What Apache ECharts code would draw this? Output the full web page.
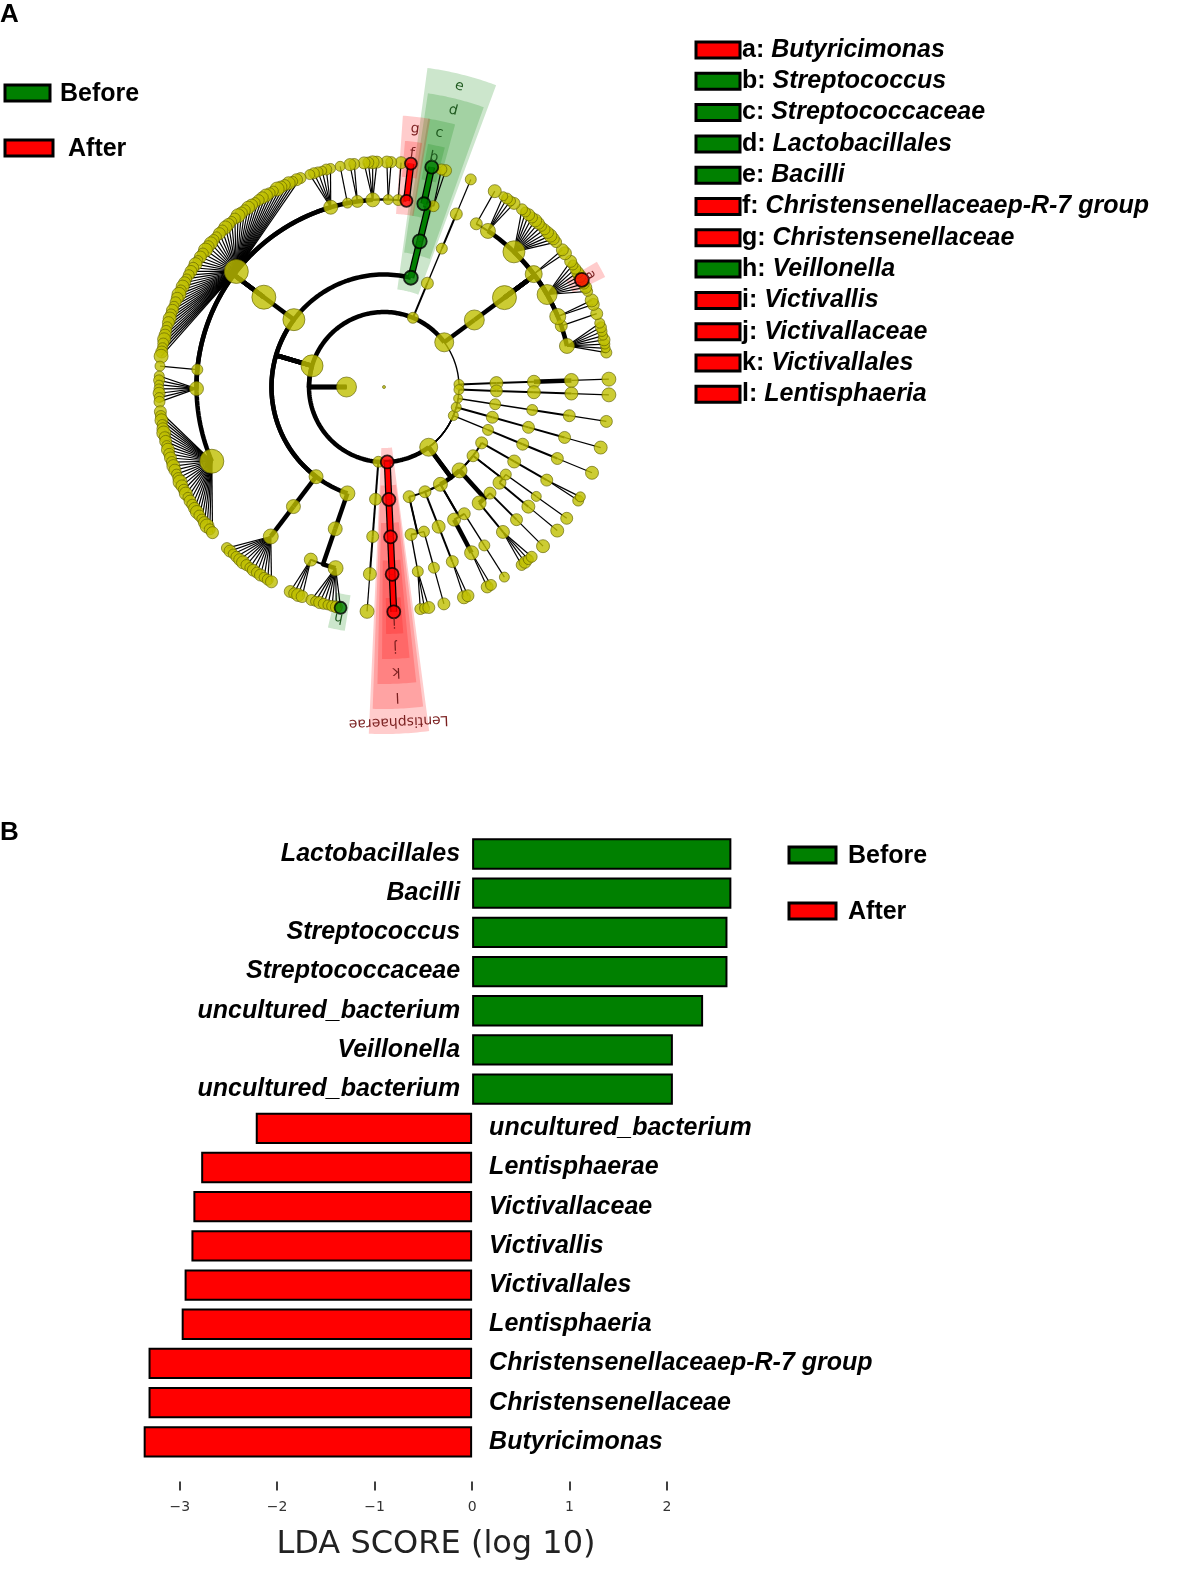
<!DOCTYPE html>
<html>
<head>
<meta charset="utf-8">
<script src="https://cdn.jsdelivr.net/npm/echarts@6.0.0/dist/echarts.min.js"></script>
<style>
  html, body { margin: 0; padding: 0; background: #fff; }
  #chart { width: 1182px; height: 1596px; }
</style>
</head>
<body>
<div id="chart"></div>
<script>
// ---------- panel B data ----------
const ldaLabels = ['Lactobacillales', 'Bacilli', 'Streptococcus', 'Streptococcaceae', 'uncultured_bacterium',
  'Veillonella', 'uncultured_bacterium', 'uncultured_bacterium', 'Lentisphaerae', 'Victivallaceae',
  'Victivallis', 'Victivallales', 'Lentisphaeria', 'Christensenellaceaep-R-7 group',
  'Christensenellaceae', 'Butyricimonas'];
const ldaScores = [2.66, 2.66, 2.62, 2.62, 2.37, 2.06, 2.06, -2.22, -2.78, -2.86, -2.88, -2.95, -2.98, -3.32, -3.32, -3.37];
const ldaTicks = [-3, -2, -1, 0, 1, 2];

// ---------- panel A data ----------
// biomarker letters shown in the cladogram legend
const markKeys = ['a', 'b', 'c', 'd', 'e', 'f', 'g', 'h', 'i', 'j', 'k', 'l'];
const markNames = ['Butyricimonas', 'Streptococcus', 'Streptococcaceae', 'Lactobacillales', 'Bacilli',
  'Christensenellaceaep-R-7 group', 'Christensenellaceae', 'Veillonella', 'Victivallis',
  'Victivallaceae', 'Victivallales', 'Lentisphaeria'];
const markGroups = ['After', 'Before', 'Before', 'Before', 'Before', 'After', 'After', 'Before',
  'After', 'After', 'After', 'After'];
const fullMarks = ['Lentisphaerae'];
const fullMarkGroups = ['After'];

// tree nodes: [size, children, tag]; a bare number is a leaf of that size
const lachnoLeaves = [11, 12, 10, 13, 11, 12, 14, 10, 11, 13, 12, 11, 10, 12, 13, 11, 12, 14, 11, 10,
  12, 13, 11, 12, 10, 11, 13, 12, 14, 11, 12, 10, 13, 11, 12, 11, 10, 12, 13, 11, 14, 12, 11, 10, 12,
  11, 13, 12, 10, 11, 12, 13, 11, 10, 12, 14];
const rumiLeaves = [12, 11, 13, 10, 12, 14, 11, 12, 10, 13, 11, 12, 11, 13, 12, 10, 11, 14, 12, 11,
  13, 10, 12, 11, 12, 13, 11, 10, 12, 14, 11, 12];
const erysiLeaves = [11, 12, 10, 11, 12, 13, 11, 10, 12, 11, 12, 10, 11, 12];

const phyStart = [10, [[13, [[13, [[14, [14]]]]]]]];
const bacteroidetes = [19, [[20, [[24, [
  [15, [11, 9, 10, 12, 9, 10, 11, 10]],
  [12, [12]],
  [16, [12, 13]],
  [20, [10, 12, 11, [14, [], 'a'], 13, 12, 11, 10, 12]],
  [17, [13, 12]],
  [22, [11, 12, 13, 12, 11, 10, 12, 13, 11, 12, 10, 11]],
  [15, [12, 10, 11, 9]],
  [12, [13]]
]]]]]];
const actinobacteria = [11, [[12, [[11, [[12, [11]]]]]]]];
const bacilli = [14, [[14, [[11, [12, 11]], [13, [[13, [], 'b']], 'c']], 'd']], 'e'];
const clostridia = [22, [[24, [
  [12, [[12, [], 'f']], 'g'],
  [11, [12]],
  [10, [11, 12]],
  [14, [12, 13, 11, 12]],
  [12, [11, 12]],
  [10, [10]],
  [14, [10, 11, 9, 10, 11, 10]],
  [24, lachnoLeaves],
  [11, [10]],
  [14, [10, 11, 9, 10, 12, 10, 11]],
  [24, rumiLeaves]
]]]];
const erysipelotrichia = [14, [[14, [[15, erysiLeaves]]]]];
const negativicutes = [15, [[14, [
  [13, [12, 11, 13, 12]],
  [15, [11, 10, 12, 11, 10, 11, 12, [12, [], 'h']]]
]]]];
const firmicutes = [22, [bacilli, clostridia, erysipelotrichia, negativicutes]];
const tenericutes = [11, [[12, [[12, [[13, [14]]]]]]]];
const lentisphaerae = [13, [[13, [[13, [[13, [[13, [], 'i']], 'j']], 'k']], 'l']], 'Lentisphaerae'];
const proteobacteria = [18, [
  [12, [[12, [[11, [11, 10, 12]]]], [11, [[11, [12]]]]]],
  [12, [[13, [[12, [13, 12]]]]]],
  [14, [[13, [[14, [12, 11]]]], [12, [[11, [10]]]]]],
  [15, [[14, [[13, [11, 12, 10, 11]]]], [12, [[12, [13]]]]]],
  [12, [[13, [[13, [13]]]], [11, [[10, [12]]]]]],
  [12, [[13, [[12, [11, 10]]]]]]
]];
const minorA = [10, [[11, [[12, [[12, [13]]]]]]]];
const minorB = [10, [[12, [[12, [[12, [13]]]]]]]];
const minorC = [9, [[11, [[11, [[12, [12]]]]]]]];
const minorD = [10, [[12, [[13, [[13, [14]]]]]]]];
const bacteria = [20, [phyStart, bacteroidetes, actinobacteria, firmicutes, tenericutes,
  lentisphaerae, proteobacteria, minorA, minorB, minorC, minorD]];

// ---------- cladogram layout ----------
const LEVEL_R = 37.5, MAX_LEVEL = 6, K_GAP = 1.3, A0 = 2, A1 = 358;
const WEDGE_MARGIN = { 2: 5, 3: 4.5, 4: 3.75, 5: 2.9, 6: 2 };

function norm(n) {
  if (typeof n === 'number') return { size: n, kids: [], tag: null };
  return { size: n[0], kids: (n[1] || []).map(norm), tag: n[2] || null };
}
function groupOf(tag) {
  if (!tag) return null;
  let i = markKeys.indexOf(tag);
  if (i >= 0) return markGroups[i];
  i = fullMarks.indexOf(tag);
  return i >= 0 ? fullMarkGroups[i] : null;
}

const root = norm([3, [bacteria]]);
const leaves = [], allNodes = [];
(function walk(n, lvl, path) {
  n.level = lvl; n.path = path; n.group = groupOf(n.tag);
  allNodes.push(n);
  if (!n.kids.length) leaves.push(n);
  n.kids.forEach(k => walk(k, lvl + 1, path.concat([n])));
})(root, 0, []);

// consecutive leaves are spaced more when they split higher up the tree
let acc = 0;
const raw = [0];
for (let i = 1; i < leaves.length; i++) {
  const a = leaves[i - 1].path, b = leaves[i].path;
  let j = 0;
  while (j < a.length && j < b.length && a[j] === b[j]) j++;
  const d = MAX_LEVEL - (j - 1);
  acc += 1 + K_GAP * (d - 1);
  raw.push(acc);
}
leaves.forEach((l, i) => { l.theta = A0 + raw[i] / acc * (A1 - A0); });
(function place(n) {
  if (!n.kids.length) { n.lo = n.hi = n.theta; return; }
  n.kids.forEach(place);
  n.theta = (n.kids[0].theta + n.kids[n.kids.length - 1].theta) / 2;
  n.lo = n.kids[0].lo;
  n.hi = n.kids[n.kids.length - 1].hi;
})(root);

const GROUP_CODE = { Before: 1, After: 2 };
const edgeData = [];
allNodes.forEach(p => {
  if (p.level === 0) return;
  p.kids.forEach(c => {
    const w = !c.kids.length ? 1.2 : c.size >= 14 ? 4.5 : c.size >= 12 ? 2 : 1.4;
    const hl = (p.group && p.group === c.group) ? GROUP_CODE[c.group] : 0;
    edgeData.push([p.level * LEVEL_R, p.theta, c.level * LEVEL_R, c.theta, w, hl, c.kids.length ? 0 : 1]);
  });
});

const nodeData = allNodes.slice().sort((a, b) => (a.group ? 1 : 0) - (b.group ? 1 : 0)).map(n => ({
  value: [n.level * LEVEL_R, n.theta],
  symbolSize: n.size,
  itemStyle: n.group
    ? { color: n.group === 'Before' ? '#008000' : '#ff0000', borderColor: '#000', borderWidth: 1.8 }
    : { color: '#bfbf00', borderColor: '#5e5e00', borderWidth: 0.8 }
}));

const marked = allNodes.filter(n => n.group).sort((a, b) => a.level - b.level);
const wedgeData = marked.map(n => {
  const m = WEDGE_MARGIN[n.level];
  const outer = 235 + (MAX_LEVEL - n.level) * 25 + 12;
  return [n.level * LEVEL_R - 14, outer, n.lo - m, n.hi + m, GROUP_CODE[n.group]];
});
const labelData = marked.map(n => [235 + (MAX_LEVEL - n.level) * 25, (n.lo + n.hi) / 2, GROUP_CODE[n.group]]);
const labelTexts = marked.map(n => n.tag);

// ---------- chart ----------
const chart = echarts.init(document.getElementById('chart'), null, { renderer: 'canvas' });
const BOLD = '"Liberation Sans", Arial, sans-serif';
const MPL = '"DejaVu Sans", sans-serif';

const legendRows = markKeys.map((k, i) => {
  const cy = 50 + i * 31.3;
  const fill = markGroups[i] === 'Before' ? '#008000' : '#ff0000';
  return [
    { type: 'rect', shape: { x: 696, y: cy - 8, width: 44, height: 16 },
      style: { fill: fill, stroke: '#000', lineWidth: 3 } },
    { type: 'text', x: 742, y: cy,
      style: { text: '{k|' + k + ': }{n|' + markNames[i] + '}', verticalAlign: 'middle',
        rich: {
          k: { fontFamily: BOLD, fontWeight: 'bold', fontSize: 25, fill: '#000' },
          n: { fontFamily: BOLD, fontWeight: 'bold', fontStyle: 'italic', fontSize: 25, fill: '#000' }
        } } }
  ];
}).flat();

function legendBox(x, y, w, fill, label, tx) {
  return [
    { type: 'rect', shape: { x: x, y: y - 8, width: w, height: 16 },
      style: { fill: fill, stroke: '#000', lineWidth: 3 } },
    { type: 'text', x: tx, y: y + 1,
      style: { text: label, fontFamily: BOLD, fontWeight: 'bold', fontSize: 25, fill: '#000',
        verticalAlign: 'middle' } }
  ];
}

const option = {
  animation: false,
  backgroundColor: '#fff',
  polar: { center: [384, 387], radius: 350 },
  radiusAxis: { min: 0, max: 350, show: false, axisLine: { show: false }, splitLine: { show: false } },
  angleAxis: { type: 'value', min: 0, max: 360, startAngle: 0, clockwise: false, show: false,
    axisLine: { show: false }, splitLine: { show: false } },
  grid: { left: 131, right: 417.5, top: 834.4, height: 627 },
  xAxis: {
    type: 'value', min: -3.5, max: 3, offset: 20,
    axisLine: { show: false }, splitLine: { show: false },
    axisTick: { show: true, length: 9, customValues: ldaTicks, lineStyle: { color: '#000', width: 1.5 } },
    axisLabel: { customValues: ldaTicks, margin: 19, fontFamily: MPL, fontSize: 14, color: '#333',
      formatter: v => String(v).replace('-', '\u2212') }
  },
  yAxis: { type: 'category', inverse: true, show: false, data: ldaLabels.map((_, i) => String(i)) },
  graphic: { elements: [
    { type: 'text', x: 0, y: 2, style: { text: 'A', fontFamily: BOLD, fontWeight: 'bold', fontSize: 26, fill: '#000' } },
    { type: 'text', x: 0, y: 820, style: { text: 'B', fontFamily: BOLD, fontWeight: 'bold', fontSize: 26, fill: '#000' } },
    ...legendBox(5, 93, 45, '#008000', 'Before', 60),
    ...legendBox(5, 148, 48, '#ff0000', 'After', 68),
    ...legendBox(789, 855, 47, '#008000', 'Before', 848),
    ...legendBox(789, 911, 47, '#ff0000', 'After', 848),
    ...legendRows,
    { type: 'text', x: 436, y: 1545,
      style: { text: 'LDA SCORE (log 10)', fontFamily: MPL, fontSize: 32, fill: '#222',
        align: 'center', verticalAlign: 'middle' } }
  ] },
  series: [
    {
      type: 'custom', coordinateSystem: 'polar', z: 1, silent: true,
      data: wedgeData,
      renderItem: function (params, api) {
        const r0 = api.value(0), r1 = api.value(1), a0 = api.value(2), a1 = api.value(3), g = api.value(4);
        const pts = [];
        const n = Math.max(2, Math.ceil((a1 - a0) / 0.5));
        for (let s = 0; s <= n; s++) pts.push(api.coord([r1, a0 + (a1 - a0) * s / n]));
        for (let s = n; s >= 0; s--) pts.push(api.coord([r0, a0 + (a1 - a0) * s / n]));
        return { type: 'polygon', shape: { points: pts },
          style: { fill: g === 1 ? 'rgba(0,128,0,0.2)' : 'rgba(255,0,0,0.2)', stroke: null } };
      }
    },
    {
      type: 'custom', coordinateSystem: 'polar', z: 2, silent: true,
      data: edgeData,
      renderItem: function (params, api) {
        const rP = api.value(0), aP = api.value(1), rC = api.value(2), aC = api.value(3);
        const w = api.value(4), hl = api.value(5), straight = api.value(6);
        const pts = [api.coord([rP, aP])];
        if (straight) {
          pts.push(api.coord([rC, aC]));
        } else {
          pts.push(api.coord([rC, aP]));
          const n = Math.max(1, Math.ceil(Math.abs(aC - aP) / 1.5));
          for (let s = 1; s <= n; s++) pts.push(api.coord([rC, aP + (aC - aP) * s / n]));
        }
        if (!hl) {
          return { type: 'polyline', shape: { points: pts },
            style: { stroke: '#000', lineWidth: w, fill: null, lineJoin: 'round' } };
        }
        return { type: 'group', children: [
          { type: 'polyline', shape: { points: pts }, style: { stroke: '#000', lineWidth: 7, fill: null } },
          { type: 'polyline', shape: { points: pts },
            style: { stroke: hl === 1 ? '#008000' : '#ff0000', lineWidth: 4.5, fill: null } }
        ] };
      }
    },
    {
      type: 'scatter', coordinateSystem: 'polar', z: 3, silent: true,
      symbol: 'circle', data: nodeData
    },
    {
      type: 'custom', coordinateSystem: 'polar', z: 4, silent: true,
      data: labelData,
      renderItem: function (params, api) {
        const p = api.coord([api.value(0), api.value(1)]);
        const g = api.value(2);
        return { type: 'text', x: p[0], y: p[1], rotation: (api.value(1) - 90) * Math.PI / 180,
          style: { text: labelTexts[params.dataIndex], fontFamily: MPL, fontSize: 14,
            fill: g === 1 ? '#1f5a1f' : '#7a1f1f', align: 'center', verticalAlign: 'middle' } };
      }
    },
    {
      name: 'Before', type: 'bar', stack: 'lda', barWidth: '80%',
      data: ldaScores.map(v => v > 0 ? v : '-'),
      itemStyle: { color: '#008000', borderColor: '#000', borderWidth: 2 },
      label: { show: true, position: 'left', distance: 12, color: '#000',
        fontFamily: BOLD, fontWeight: 'bold', fontStyle: 'italic', fontSize: 25,
        formatter: p => ldaLabels[p.dataIndex] }
    },
    {
      name: 'After', type: 'bar', stack: 'lda', barWidth: '80%',
      data: ldaScores.map(v => v < 0 ? v : '-'),
      itemStyle: { color: '#ff0000', borderColor: '#000', borderWidth: 2 },
      label: { show: true, position: 'right', distance: 17, color: '#000',
        fontFamily: BOLD, fontWeight: 'bold', fontStyle: 'italic', fontSize: 25,
        formatter: p => ldaLabels[p.dataIndex] }
    }
  ]
};
chart.setOption(option);
</script>
</body>
</html>
